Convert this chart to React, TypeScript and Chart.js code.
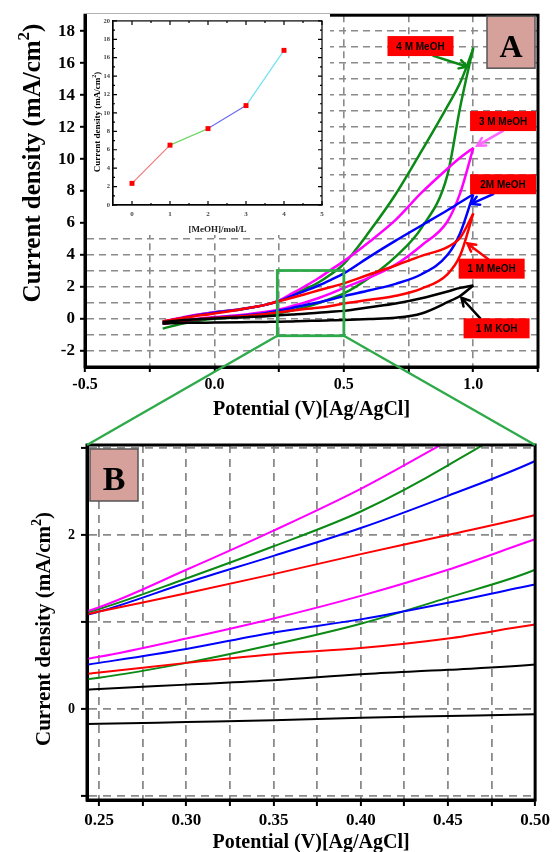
import React, { useEffect, useRef } from 'react';
import { Chart, registerables } from 'chart.js';

Chart.register(...registerables);

// ---------------- Data ----------------
const POTENTIAL = [-0.2, -0.1, 0.0, 0.1, 0.2, 0.25, 0.3, 0.35, 0.4, 0.45, 0.5, 0.6, 0.7, 0.8, 0.9, 0.95, 1.0];

const KOH_UPPER = [-0.18, -0.05, 0.03, 0.1, 0.17, 0.23, 0.28, 0.33, 0.4, 0.45, 0.51, 0.74, 0.97, 1.3, 1.72, 1.95, 2.1];
const KOH_LOWER = [-0.28, -0.24, -0.22, -0.2, -0.18, -0.17, -0.15, -0.13, -0.1, -0.08, -0.06, 0.0, 0.08, 0.35, 1.05, 1.46, 2.1];
const MEOH1_UPPER = [-0.15, 0.12, 0.35, 0.6, 0.9, 1.12, 1.33, 1.55, 1.78, 2.0, 2.23, 2.8, 3.35, 3.95, 4.5, 5.1, 6.6];
const MEOH1_LOWER = [-0.28, -0.08, 0.08, 0.18, 0.32, 0.42, 0.53, 0.63, 0.7, 0.81, 0.97, 1.2, 1.45, 1.9, 2.8, 4.0, 6.6];
const MEOH2_UPPER = [-0.2, 0.15, 0.4, 0.6, 0.9, 1.12, 1.45, 1.76, 2.08, 2.45, 2.85, 3.9, 4.9, 5.85, 6.8, 7.3, 7.8];
const MEOH2_LOWER = [-0.3, -0.08, 0.08, 0.2, 0.38, 0.53, 0.69, 0.88, 1.03, 1.22, 1.43, 1.8, 2.2, 2.8, 4.0, 5.4, 7.8];
const MEOH3_UPPER = [-0.15, 0.18, 0.42, 0.62, 0.9, 1.17, 1.6, 2.05, 2.53, 3.08, 3.62, 4.85, 6.2, 7.9, 9.4, 10.1, 10.7];
const MEOH3_LOWER = [-0.3, -0.05, 0.12, 0.25, 0.45, 0.6, 0.81, 1.04, 1.3, 1.6, 1.95, 2.6, 3.4, 4.6, 6.1, 7.9, 10.7];
const MEOH4_UPPER = [-0.3, 0.15, 0.42, 0.62, 0.9, 1.15, 1.5, 1.87, 2.27, 2.8, 3.45, 5.5, 7.8, 10.5, 13.3, 14.8, 16.9];
const MEOH4_LOWER = [-0.6, -0.2, 0.02, 0.12, 0.25, 0.36, 0.53, 0.74, 0.98, 1.28, 1.6, 2.6, 3.9, 5.7, 9.0, 13.3, 17.0];

const SERIES_NAMES = ['1 M KOH', '1 M MeOH', '2M MeOH', '3 M MeOH', '4 M MeOH'];
const SERIES_COLORS = ['#000000', '#ff0000', '#0000ff', '#ff00ff', '#0b8a16'];

// Inset: peak current density vs methanol concentration
const INSET_CONC = [0, 1, 2, 3, 4];
const INSET_DENSITY = [2.35, 6.5, 8.3, 10.8, 16.8];
const INSET_SEGMENT_COLORS = ['#f27a7a', '#74d66a', '#6b6bef', '#6fe3ef'];

// Tick values
const A_X_TICKS = [-0.5, -0.25, 0, 0.25, 0.5, 0.75, 1.0, 1.25];
const A_Y_TICKS = [-2, -1, 0, 1, 2, 3, 4, 5, 6, 7, 8, 9, 10, 11, 12, 13, 14, 15, 16, 17, 18];
const B_X_TICKS = [0.25, 0.275, 0.3, 0.325, 0.35, 0.375, 0.4, 0.425, 0.45, 0.475, 0.5];
const B_Y_TICKS = [-1, 0, 1, 2, 3];
const INSET_X_TICKS = [0, 1, 2, 3, 4, 5];
const INSET_Y_TICKS = [0, 2, 4, 6, 8, 10, 12, 14, 16, 18, 20];

// Zoom window (panel B range)
const ZOOM_X = [0.243, 0.5];
const ZOOM_Y = [-1.046, 3.034];

// Annotation labels (data coordinates of panel A)
const LABEL_TEXT = ['4 M MeOH', '3 M MeOH', '2M MeOH', '1 M MeOH', '1 M KOH'];
const LABEL_X = [0.796, 1.115, 1.115, 1.071, 1.09];
const LABEL_Y = [17.07, 12.38, 8.43, 3.15, -0.58];
const ARROW_FROM_X = [0.846, 1.115, 1.077, 1.058, 1.027];
const ARROW_FROM_Y = [16.46, 11.77, 7.81, 3.74, 0.04];
const ARROW_TO_X = [0.977, 1.015, 0.992, 0.977, 0.954];
const ARROW_TO_Y = [15.78, 10.84, 7.2, 4.73, 1.33];
const ARROW_COLORS = ['#0b8a16', '#ff66ff', '#0000ff', '#ff0000', '#000000'];

// ---------------- Styling helpers ----------------
const SERIF = '"Liberation Serif", "Times New Roman", serif';
const SANS = '"Liberation Sans", Arial, sans-serif';
const GRID = '#8a8a8a';
const ZOOM_GREEN = '#2eaa4a';
const B_CANVAS_TOP = 430;

const UPPERS = [KOH_UPPER, MEOH1_UPPER, MEOH2_UPPER, MEOH3_UPPER, MEOH4_UPPER];
const LOWERS = [KOH_LOWER, MEOH1_LOWER, MEOH2_LOWER, MEOH3_LOWER, MEOH4_LOWER];

function buildDatasets(width: number) {
  const ds: any[] = [];
  SERIES_NAMES.forEach((name, i) => {
    const branches: [string, number[]][] = [['forward', UPPERS[i]], ['reverse', LOWERS[i]]];
    branches.forEach(([kind, arr]) => {
      ds.push({
        label: `${name} ${kind}`,
        data: POTENTIAL.map((x, j) => ({ x, y: arr[j] })),
        borderColor: SERIES_COLORS[i],
        backgroundColor: SERIES_COLORS[i],
        borderWidth: width,
        pointRadius: 0,
        fill: false,
        cubicInterpolationMode: 'monotone',
      });
    });
  });
  return ds;
}

function setTicks(values: number[]) {
  return (s: any) => {
    s.ticks = values.map((v) => ({ value: v }));
  };
}

function drawYTitle(ctx: CanvasRenderingContext2D, cx: number, cy: number, size: number, supSize: number) {
  ctx.save();
  ctx.translate(cx, cy);
  ctx.rotate(-Math.PI / 2);
  const main = `bold ${size}px ${SERIF}`;
  const sup = `bold ${supSize}px ${SERIF}`;
  const p1 = 'Current density (mA/cm';
  const p2 = '2';
  const p3 = ')';
  ctx.font = main;
  const w1 = ctx.measureText(p1).width;
  const w3 = ctx.measureText(p3).width;
  ctx.font = sup;
  const w2 = ctx.measureText(p2).width;
  let sx = -(w1 + w2 + w3) / 2;
  const base = size * 0.33;
  ctx.fillStyle = '#000';
  ctx.textAlign = 'left';
  ctx.textBaseline = 'alphabetic';
  ctx.font = main;
  ctx.fillText(p1, sx, base);
  sx += w1;
  ctx.font = sup;
  ctx.fillText(p2, sx, base - size * 0.42);
  sx += w2;
  ctx.font = main;
  ctx.fillText(p3, sx, base);
  ctx.restore();
}

function drawLetterBox(ctx: CanvasRenderingContext2D, x: number, y: number, w: number, h: number, letter: string, size: number, baseline: number) {
  ctx.save();
  ctx.fillStyle = '#d6a09b';
  ctx.fillRect(x, y, w, h);
  ctx.strokeStyle = '#555';
  ctx.lineWidth = 1.5;
  ctx.strokeRect(x, y, w, h);
  ctx.fillStyle = '#000';
  ctx.font = `bold ${size}px ${SERIF}`;
  ctx.textAlign = 'center';
  ctx.textBaseline = 'alphabetic';
  ctx.fillText(letter, x + w / 2, y + baseline);
  ctx.restore();
}

function drawFrame(chart: any, width: number) {
  const { ctx, chartArea: a } = chart;
  ctx.save();
  ctx.strokeStyle = '#000';
  ctx.lineWidth = width;
  ctx.strokeRect(a.left, a.top, a.right - a.left, a.bottom - a.top);
  ctx.restore();
}

function drawArrow(ctx: CanvasRenderingContext2D, x1: number, y1: number, x2: number, y2: number, color: string) {
  const ang = Math.atan2(y2 - y1, x2 - x1);
  const head = 9;
  ctx.save();
  ctx.strokeStyle = color;
  ctx.lineWidth = 2.5;
  ctx.lineCap = 'round';
  ctx.beginPath();
  ctx.moveTo(x1, y1);
  ctx.lineTo(x2, y2);
  ctx.moveTo(x2 - head * Math.cos(ang - 0.5), y2 - head * Math.sin(ang - 0.5));
  ctx.lineTo(x2, y2);
  ctx.lineTo(x2 - head * Math.cos(ang + 0.5), y2 - head * Math.sin(ang + 0.5));
  ctx.stroke();
  ctx.restore();
}

const panelAPlugin = {
  id: 'panelA',
  afterDatasetsDraw(chart: any) {
    const { ctx } = chart;
    const x = chart.scales.x;
    const y = chart.scales.y;
    LABEL_TEXT.forEach((t, i) => {
      drawArrow(
        ctx,
        x.getPixelForValue(ARROW_FROM_X[i]),
        y.getPixelForValue(ARROW_FROM_Y[i]),
        x.getPixelForValue(ARROW_TO_X[i]),
        y.getPixelForValue(ARROW_TO_Y[i]),
        ARROW_COLORS[i]
      );
      const cx = x.getPixelForValue(LABEL_X[i]);
      const cy = y.getPixelForValue(LABEL_Y[i]);
      ctx.save();
      ctx.fillStyle = '#ff0000';
      ctx.fillRect(cx - 33, cy - 10, 66, 20);
      ctx.fillStyle = '#000';
      ctx.font = `bold 10px ${SANS}`;
      ctx.textAlign = 'center';
      ctx.textBaseline = 'middle';
      ctx.fillText(t, cx, cy + 1);
      ctx.restore();
    });
  },
  afterDraw(chart: any) {
    drawFrame(chart, 3);
    const a = chart.chartArea;
    drawLetterBox(chart.ctx, a.right - 51, a.top + 1, 48, 52, 'A', 32, 41);
    drawYTitle(chart.ctx, 31.5, 163, 25, 17);
  },
};

const panelBPlugin = {
  id: 'panelB',
  afterDraw(chart: any) {
    drawFrame(chart, 3);
    const a = chart.chartArea;
    drawLetterBox(chart.ctx, a.left + 3, a.top + 4, 48, 52, 'B', 34, 41);
    drawYTitle(chart.ctx, 43, 629 - B_CANVAS_TOP, 21, 14);
  },
};

const insetPlugin = {
  id: 'inset',
  beforeDraw(chart: any) {
    const { ctx, width, height } = chart;
    ctx.save();
    ctx.fillStyle = '#fff';
    ctx.fillRect(0, 0, width, height);
    ctx.restore();
  },
  afterDraw(chart: any) {
    const { ctx, chartArea: a } = chart;
    const x = chart.scales.x;
    const y = chart.scales.y;
    ctx.save();
    ctx.strokeStyle = '#000';
    ctx.lineWidth = 1.2;
    ctx.strokeRect(a.left, a.top, a.right - a.left, a.bottom - a.top);
    ctx.beginPath();
    for (let v = 0; v <= 5.001; v += 0.5) {
      const px = x.getPixelForValue(v);
      const len = Math.abs(v - Math.round(v)) < 1e-6 ? 4 : 2;
      ctx.moveTo(px, a.bottom);
      ctx.lineTo(px, a.bottom - len);
      ctx.moveTo(px, a.top);
      ctx.lineTo(px, a.top + len);
    }
    for (let v = 0; v <= 20.001; v += 1) {
      const py = y.getPixelForValue(v);
      const len = v % 2 === 0 ? 4 : 2;
      ctx.moveTo(a.left, py);
      ctx.lineTo(a.left + len, py);
      ctx.moveTo(a.right, py);
      ctx.lineTo(a.right - len, py);
    }
    ctx.stroke();
    ctx.restore();
    drawYTitle(ctx, 10, 108, 9, 6);
  },
};

export default function App() {
  const aRef = useRef<HTMLCanvasElement>(null);
  const bRef = useRef<HTMLCanvasElement>(null);
  const cRef = useRef<HTMLCanvasElement>(null);
  const oRef = useRef<HTMLCanvasElement>(null);

  useEffect(() => {
    const chartA = new Chart(aRef.current as HTMLCanvasElement, {
      type: 'line',
      data: { datasets: buildDatasets(2.5) },
      options: {
        responsive: false,
        animation: false,
        layout: { padding: { left: 0, right: 16, top: 12, bottom: 0 } },
        plugins: { legend: { display: false }, tooltip: { enabled: false } },
        scales: {
          x: {
            type: 'linear',
            min: -0.5,
            max: 1.25,
            afterBuildTicks: setTicks(A_X_TICKS),
            afterFit: (s: any) => {
              s.height = 63;
            },
            ticks: {
              autoSkip: false,
              maxRotation: 0,
              padding: 3,
              color: '#000',
              font: { family: SERIF, size: 16, weight: 'bold' },
              callback: (v: any) => (Math.abs(v * 2 - Math.round(v * 2)) < 1e-6 ? Number(v).toFixed(1) : ''),
            },
            grid: {
              color: (c: any) => (c.tick && (c.tick.value <= -0.5 || c.tick.value >= 1.25) ? 'rgba(0,0,0,0)' : GRID),
              lineWidth: 1.6,
              tickLength: 5,
              tickColor: '#000',
              tickWidth: 2,
            },
            border: { display: true, color: '#000', width: 3, dash: [7, 5] },
            title: {
              display: true,
              text: 'Potential (V)[Ag/AgCl]',
              color: '#000',
              font: { family: SERIF, size: 20, weight: 'bold' },
              padding: { top: 0, bottom: 8 },
            },
          },
          y: {
            type: 'linear',
            min: -3,
            max: 19,
            afterBuildTicks: setTicks(A_Y_TICKS),
            afterFit: (s: any) => {
              s.width = 85;
            },
            ticks: {
              autoSkip: false,
              padding: 5,
              color: '#000',
              font: { family: SERIF, size: 17, weight: 'bold' },
              callback: (v: any) => (v % 2 === 0 ? String(v) : ''),
            },
            grid: {
              color: GRID,
              lineWidth: 1.6,
              tickLength: 5,
              tickWidth: 2,
              tickColor: (c: any) => (c.tick && c.tick.value % 2 === 0 ? '#000' : 'rgba(0,0,0,0)'),
            },
            border: { display: true, color: '#000', width: 3, dash: [7, 5] },
            title: { display: false },
          },
        },
      } as any,
      plugins: [panelAPlugin],
    });

    const chartC = new Chart(cRef.current as HTMLCanvasElement, {
      type: 'line',
      data: {
        datasets: [
          {
            label: 'Current density vs [MeOH]',
            data: INSET_CONC.map((x, i) => ({ x, y: INSET_DENSITY[i] })),
            borderWidth: 1.2,
            borderColor: INSET_SEGMENT_COLORS[0],
            pointStyle: 'rect',
            pointRadius: 3.5,
            pointBackgroundColor: '#ff0000',
            pointBorderColor: '#ff0000',
            pointBorderWidth: 0,
            segment: { borderColor: (c: any) => INSET_SEGMENT_COLORS[c.p0DataIndex] },
          } as any,
        ],
      },
      options: {
        responsive: false,
        animation: false,
        layout: { padding: { left: 0, right: 8, top: 5, bottom: 0 } },
        plugins: { legend: { display: false }, tooltip: { enabled: false } },
        scales: {
          x: {
            type: 'linear',
            min: -0.5,
            max: 5,
            afterBuildTicks: setTicks(INSET_X_TICKS),
            afterFit: (s: any) => {
              s.height = 30;
            },
            grid: { display: false, drawTicks: false },
            border: { display: true, color: '#000', width: 1.2 },
            ticks: { autoSkip: false, maxRotation: 0, padding: 5, color: '#444', font: { family: SERIF, size: 7, weight: 'bold' } },
            title: {
              display: true,
              text: '[MeOH]/mol/L',
              color: '#222',
              font: { family: SERIF, size: 9, weight: 'bold' },
              padding: { top: 0, bottom: 0 },
            },
          },
          y: {
            type: 'linear',
            min: 0,
            max: 20,
            afterBuildTicks: setTicks(INSET_Y_TICKS),
            afterFit: (s: any) => {
              s.width = 26;
            },
            grid: { display: false, drawTicks: false },
            border: { display: true, color: '#000', width: 1.2 },
            ticks: { autoSkip: false, padding: 3, color: '#444', font: { family: SERIF, size: 6.5, weight: 'bold' } },
            title: { display: false },
          },
        },
      } as any,
      plugins: [insetPlugin],
    });

    const chartB = new Chart(bRef.current as HTMLCanvasElement, {
      type: 'line',
      data: { datasets: buildDatasets(2) },
      options: {
        responsive: false,
        animation: false,
        layout: { padding: { left: 0, right: 16, top: 15, bottom: 0 } },
        plugins: { legend: { display: false }, tooltip: { enabled: false } },
        scales: {
          x: {
            type: 'linear',
            min: ZOOM_X[0],
            max: ZOOM_X[1],
            afterBuildTicks: setTicks(B_X_TICKS),
            afterFit: (s: any) => {
              s.height = 70;
            },
            ticks: {
              autoSkip: false,
              maxRotation: 0,
              padding: 4,
              color: '#000',
              font: { family: SERIF, size: 17, weight: 'bold' },
              callback: (v: any) => (Math.abs(v * 20 - Math.round(v * 20)) < 1e-6 ? Number(v).toFixed(2) : ''),
            },
            grid: { color: GRID, lineWidth: 1.8, tickLength: 6, tickColor: '#000', tickWidth: 2 },
            border: { display: true, color: '#000', width: 3, dash: [8, 6] },
            title: {
              display: true,
              text: 'Potential (V)[Ag/AgCl]',
              color: '#000',
              font: { family: SERIF, size: 20, weight: 'bold' },
              padding: { top: 0, bottom: 15 },
            },
          },
          y: {
            type: 'linear',
            min: ZOOM_Y[0],
            max: ZOOM_Y[1],
            afterBuildTicks: setTicks(B_Y_TICKS),
            afterFit: (s: any) => {
              s.width = 87;
            },
            ticks: {
              autoSkip: false,
              padding: 6,
              color: '#000',
              font: { family: SERIF, size: 14, weight: 'bold' },
              callback: (v: any) => (v === 0 || v === 2 ? String(v) : ''),
            },
            grid: { color: GRID, lineWidth: 1.8, tickLength: 6, tickColor: '#000', tickWidth: 2 },
            border: { display: true, color: '#000', width: 3, dash: [8, 6] },
            title: { display: false },
          },
        },
      } as any,
      plugins: [panelBPlugin],
    });

    // Overlay: zoom window on panel A and connector lines to panel B
    const ov = oRef.current as HTMLCanvasElement;
    const octx = ov.getContext('2d') as CanvasRenderingContext2D;
    octx.clearRect(0, 0, ov.width, ov.height);
    const xa: any = chartA.scales.x;
    const ya: any = chartA.scales.y;
    const l = xa.getPixelForValue(ZOOM_X[0]);
    const r = xa.getPixelForValue(ZOOM_X[1]);
    const t = ya.getPixelForValue(ZOOM_Y[1]);
    const b = ya.getPixelForValue(ZOOM_Y[0]);
    const cb = chartB.chartArea;
    octx.save();
    octx.strokeStyle = ZOOM_GREEN;
    octx.lineWidth = 2.8;
    octx.strokeRect(l, t, r - l, b - t);
    octx.lineWidth = 2.4;
    octx.beginPath();
    octx.moveTo(l, b);
    octx.lineTo(cb.left, cb.top + B_CANVAS_TOP);
    octx.moveTo(r, b);
    octx.lineTo(cb.right, cb.top + B_CANVAS_TOP);
    octx.stroke();
    octx.restore();

    return () => {
      chartA.destroy();
      chartB.destroy();
      chartC.destroy();
      octx.clearRect(0, 0, ov.width, ov.height);
    };
  }, []);

  return (
    <div style={{ position: 'absolute', left: 0, top: 0, width: 554, height: 852, overflow: 'hidden', background: '#fff' }}>
      <canvas ref={aRef} width={554} height={430} style={{ position: 'absolute', left: 0, top: 0, width: 554, height: 430 }} />
      <canvas ref={cRef} width={243} height={221} style={{ position: 'absolute', left: 87, top: 14, width: 243, height: 221 }} />
      <canvas
        ref={bRef}
        width={554}
        height={440}
        style={{ position: 'absolute', left: 0, top: B_CANVAS_TOP, width: 554, height: 440 }}
      />
      <canvas
        ref={oRef}
        width={554}
        height={852}
        style={{ position: 'absolute', left: 0, top: 0, width: 554, height: 852, pointerEvents: 'none' }}
      />
    </div>
  );
}
